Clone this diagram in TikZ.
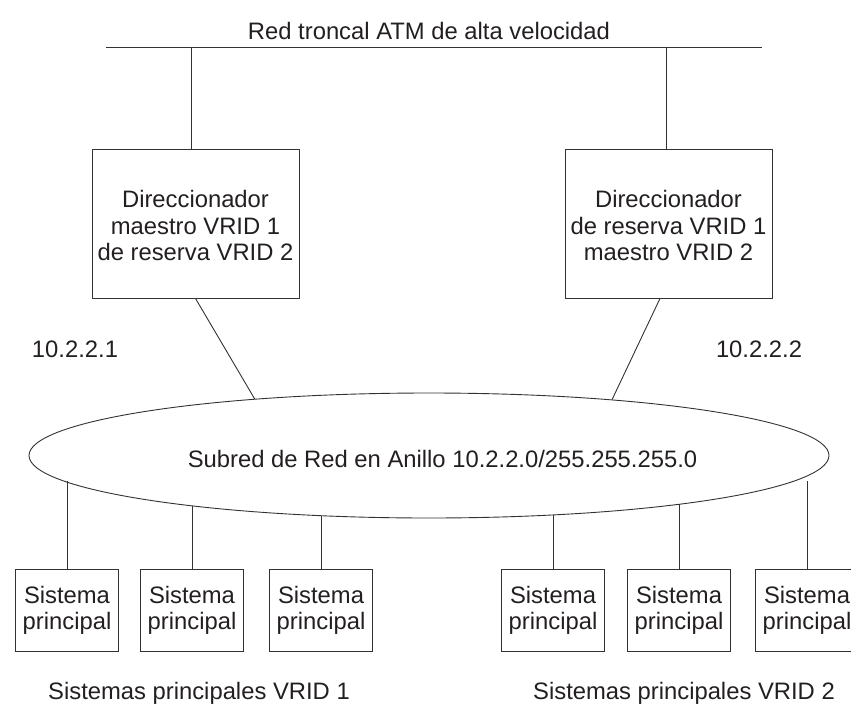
\documentclass[tikz,border=0pt]{standalone}
\usepackage{fontspec}
\setmainfont{Liberation Sans}
\usetikzlibrary{shapes.geometric}
\definecolor{ink}{RGB}{35,31,32}
\definecolor{wire}{RGB}{50,50,50}
\begin{document}
\begin{tikzpicture}[x=1pt,y=-1pt,
  every node/.style={text=ink, font=\fontsize{23.8}{26.5}\selectfont},
  wirel/.style={draw=wire, line width=0.9pt},
  router/.style={wirel, rectangle, minimum width=207pt, minimum height=149pt, inner sep=0pt, align=center},
  host/.style={wirel, rectangle, minimum width=103pt, minimum height=82pt, inner sep=0pt, align=center, font=\fontsize{23.8}{26}\selectfont},
  lbl/.style={anchor=base, inner sep=0pt}]
\useasboundingbox (0,0) rectangle (851,704);

% backbone
\node[lbl] (title) at (429,39) {Red troncal ATM de alta velocidad};
\coordinate (bbL) at (106,47);
\coordinate (bbR) at (762,47);
\draw[wirel] (bbL) -- (bbR);

% routers
\node[router] (rtA) at (195.5,223.5) {\rule{0pt}{22pt}Direccionador\\maestro VRID 1\\de reserva VRID 2};
\node[router] (rtB) at (668.5,223.5) {\rule{0pt}{22pt}Direccionador\\de reserva VRID 1\\maestro VRID 2};
\coordinate (tA) at (191,47);
\coordinate (tB) at (666,47);
\draw[wirel] (tA) -- (tA |- rtA.north);
\draw[wirel] (tB) -- (tB |- rtB.north);

\node[lbl] (ipA) at (75,357) {10.2.2.1};
\node[lbl] (ipB) at (759,357) {10.2.2.2};

% ring subnet
\node[wirel, ellipse, minimum width=800pt, minimum height=125pt, inner sep=0pt] (ring) at (429,455.5) {};
\node[lbl] (ringtxt) at (442.5,467) {Subred de Red en Anillo 10.2.2.0/255.255.255.0};

\draw[wirel] (rtA.south) -- (ring.162.3);
\draw[wirel] ([xshift=-8.5pt]rtB.south) -- (ring.17.9);

% hosts
\node[host] (h1) at (67,610) {Sistema\\principal};
\node[host] (h2) at (192,610) {Sistema\\principal};
\node[host] (h3) at (321,610) {Sistema\\principal};
\node[host] (h4) at (553,610) {Sistema\\principal};
\node[host] (h5) at (679,610) {Sistema\\principal};
\node[host] (h6) at (807,610) {Sistema\\principal};

\draw[wirel] (h1.north) -- (h1.north |- ring.184.2);
\draw[wirel] (h2.north) -- (h2.north |- ring.192.0);
\draw[wirel] (h3.north) -- (h3.north |- ring.209.1);
\draw[wirel] (h4.north) -- (h4.north |- ring.334.4);
\draw[wirel] (h5.north) -- (h5.north |- ring.349.0);
\draw[wirel] (h6.north) -- (h6.north |- ring.356.9);

\node[lbl] (grpA) at (199,699) {Sistemas principales VRID 1};
\node[lbl] (grpB) at (684,699) {Sistemas principales VRID 2};
\end{tikzpicture}
\end{document}
